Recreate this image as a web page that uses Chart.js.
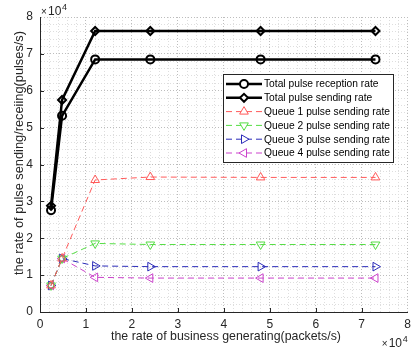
<!DOCTYPE html>
<html lang="en">
<head>
    <meta charset="UTF-8">
    <script src="https://cdn.jsdelivr.net/npm/chart.js"></script>
    <title>Pulse rate</title>
</head>
<style>
    html, body { margin: 0; padding: 0; background: #fff; }
    .chart-container { width: 416px; height: 355px; position: relative; }
</style>
<body>
<div class="chart-container">
    <canvas id="rate-chart"></canvas>
</div>

<script>
    // values (x in packets/s, y in pulses/s)
    const businessRate = [2400, 4800, 12000, 24000, 48000, 73000];
    const totalReception = [27600, 53200, 68500, 68500, 68500, 68500];
    const totalSending = [28800, 57500, 76200, 76200, 76200, 76200];
    const queue1 = [7200, 14500, 35800, 36600, 36500, 36500];
    const queue2 = [7200, 14500, 18600, 18300, 18300, 18300];
    const queue3 = [7200, 14500, 12500, 12300, 12300, 12300];
    const queue4 = [7200, 14500, 9400, 9200, 9200, 9200];
    const tickLabels = ['0', '1', '2', '3', '4', '5', '6', '7', '8'];

    const font = 'Arial, "Liberation Sans", sans-serif';
    const pts = ys => businessRate.map((x, i) => ({x: x, y: ys[i]}));

    function series(label, ys, color, marker, rot, width, dash) {
        return {
            label: label,
            data: pts(ys),
            borderColor: color,
            borderWidth: width,
            borderDash: dash,
            pointStyle: marker,
            pointRotation: rot,
            pointRadius: width > 2 ? 4 : 5,
            pointBorderWidth: width > 2 ? 2 : 1,
            pointBorderColor: color,
            pointBackgroundColor: 'rgba(0,0,0,0)',
            tension: 0,
            fill: false
        };
    }

    // pick a font size so the text spans about `w` pixels
    function fitFont(c, text, w) {
        c.font = '12px ' + font;
        const size = 12 * w / c.measureText(text).width;
        c.font = size.toFixed(2) + 'px ' + font;
    }

    // legend, exponent labels, axis titles and inward ticks
    const decor = {
        id: 'decor',
        afterDraw(chart) {
            const c = chart.ctx, a = chart.chartArea;
            const xs = chart.scales.x, ys = chart.scales.y;
            c.save();
            // inward major ticks
            c.strokeStyle = '#262626';
            c.lineWidth = 1;
            c.beginPath();
            for (let v = 10000; v < 80000; v += 10000) {
                const px = Math.round(xs.getPixelForValue(v)) + 0.5;
                c.moveTo(px, a.bottom); c.lineTo(px, a.bottom - 4);
                const py = Math.round(ys.getPixelForValue(v)) + 0.5;
                c.moveTo(a.left, py); c.lineTo(a.left + 4, py);
            }
            c.stroke();

            c.fillStyle = '#262626';
            // exponents
            c.textBaseline = 'alphabetic';
            c.textAlign = 'left';
            c.font = '10px ' + font;
            c.fillText('\u00d7', a.left + 1, 15);
            c.font = '12px ' + font;
            c.fillText('10', a.left + 8, 15);
            c.font = '9px ' + font;
            c.fillText('4', a.left + 22, 10);
            c.font = '10px ' + font;
            c.fillText('\u00d7', a.right - 26, 347);
            c.font = '12px ' + font;
            c.fillText('10', a.right - 19, 347);
            c.font = '9px ' + font;
            c.fillText('4', a.right - 5, 342);

            // axis titles
            c.textAlign = 'center';
            c.textBaseline = 'middle';
            const xTitle = 'the rate of business generating(packets/s)';
            fitFont(c, xTitle, 230);
            c.fillText(xTitle, 226, 337);
            const yTitle = 'the rate of pulse sending/receiing(pulses/s)';
            fitFont(c, yTitle, 244);
            c.save();
            c.translate(19, 153);
            c.rotate(-Math.PI / 2);
            c.fillText(yTitle, 0, 0);
            c.restore();

            // legend box
            const bx = 223.5, by = 74.5, bw = 170, bh = 88;
            c.fillStyle = '#fff';
            c.fillRect(bx, by, bw, bh);
            c.strokeStyle = '#262626';
            c.lineWidth = 1;
            c.strokeRect(bx, by, bw, bh);
            chart.data.datasets.forEach((ds, i) => {
                const yy = 84 + i * 13.8;
                c.save();
                c.strokeStyle = ds.borderColor;
                c.lineWidth = ds.borderWidth;
                c.setLineDash(ds.borderDash || []);
                c.beginPath();
                c.moveTo(226, yy); c.lineTo(262, yy);
                c.stroke();
                c.setLineDash([]);
                c.lineWidth = ds.pointBorderWidth;
                c.fillStyle = '#fff';
                Chart.helpers.drawPoint(c, {
                    pointStyle: ds.pointStyle,
                    rotation: ds.pointRotation,
                    radius: ds.pointRadius,
                    borderWidth: ds.pointBorderWidth
                }, 244, yy);
                c.restore();
                c.fillStyle = '#000';
                fitFont(c, 'Queue 1 pulse sending rate', 126);
                c.textAlign = 'left';
                c.fillText(ds.label, 264, yy + 0.5);
            });
            c.restore();
        }
    };

    const ctx = document.getElementById('rate-chart');
    new Chart(ctx, {
        type: 'line',
        data: {
            datasets: [
                series('Total pulse reception rate', totalReception, '#000000', 'circle', 0, 2.5, []),
                series('Total pulse sending rate', totalSending, '#000000', 'rectRot', 0, 2.5, []),
                series('Queue 1 pulse sending rate', queue1, '#ff5a5a', 'triangle', 0, 1, [6, 4]),
                series('Queue 2 pulse sending rate', queue2, '#55dd44', 'triangle', 180, 1, [6, 4]),
                series('Queue 3 pulse sending rate', queue3, '#2b2bb8', 'triangle', 90, 1, [6, 4]),
                series('Queue 4 pulse sending rate', queue4, '#cc44cc', 'triangle', -90, 1, [6, 4])
            ]
        },
        options: {
            responsive: true,
            maintainAspectRatio: false,
            animation: false,
            layout: { padding: { top: 17, right: 4, left: 0, bottom: 0 } },
            plugins: {
                legend: { display: false },
                tooltip: { enabled: false }
            },
            scales: {
                x: {
                    type: 'linear',
                    min: 0,
                    max: 80000,
                    afterFit: s => { s.height = 43; },
                    afterBuildTicks: s => {
                        s.ticks = [];
                        for (let v = 0; v <= 80000; v += 2000) s.ticks.push({value: v});
                    },
                    ticks: {
                        autoSkip: false,
                        maxRotation: 0,
                        padding: 5,
                        color: '#262626',
                        font: { family: font, size: 12 },
                        callback: v => v % 10000 === 0 ? tickLabels[v / 10000] : ''
                    },
                    grid: {
                        drawTicks: false,
                        color: c => c.tick && c.tick.value % 10000 === 0 ? '#bdbdbd' : '#dedede',
                        lineWidth: 1
                    },
                    border: { color: '#262626', width: 1, dash: [1, 2] }
                },
                y: {
                    min: 0,
                    max: 80000,
                    afterFit: s => { s.width = 40; },
                    afterBuildTicks: s => {
                        s.ticks = [];
                        for (let v = 0; v <= 80000; v += 2000) s.ticks.push({value: v});
                    },
                    ticks: {
                        autoSkip: false,
                        padding: 7,
                        color: '#262626',
                        font: { family: font, size: 12 },
                        callback: v => v % 10000 === 0 ? tickLabels[v / 10000] : ''
                    },
                    grid: {
                        drawTicks: false,
                        color: c => c.tick && c.tick.value % 10000 === 0 ? '#bdbdbd' : '#dedede',
                        lineWidth: 1
                    },
                    border: { color: '#262626', width: 1, dash: [1, 2] }
                }
            }
        },
        plugins: [decor]
    });
</script>
</body>
</html>
